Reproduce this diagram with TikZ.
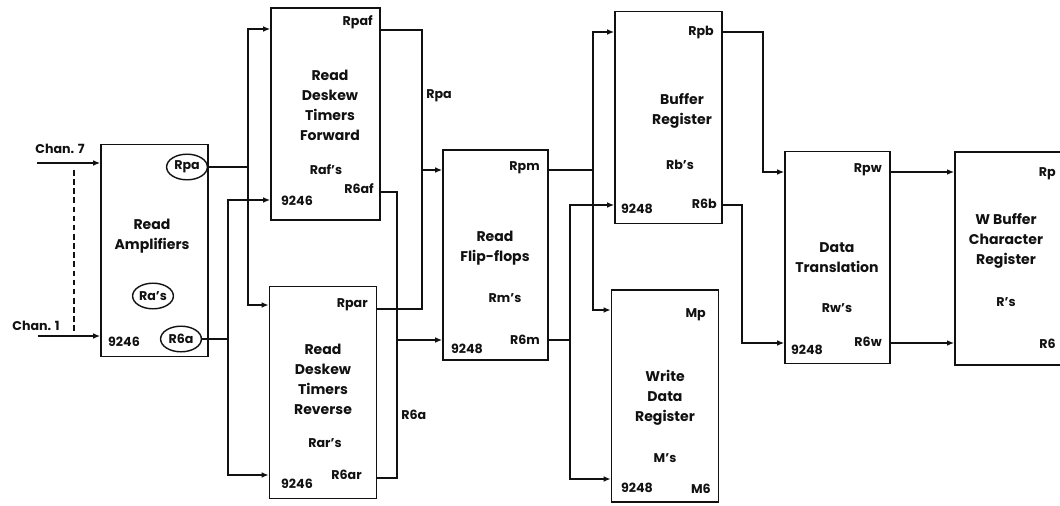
\documentclass[tikz,border=0pt]{standalone}
\usepackage{fontspec}
\setmainfont{Poppins}
\usepackage{tikz}
\usetikzlibrary{arrows.meta,shapes.geometric}
\definecolor{Ink}{HTML}{111111}
\tikzset{
  >=Latex,
  blk/.style={draw=Ink,line width=1.2pt,minimum width=2.67cm,minimum height=5.3cm,inner sep=0pt},
  ttl/.style={font=\bfseries\fontsize{10}{14.2}\selectfont,align=center,inner sep=0pt,text=Ink},
  pin/.style={font=\bfseries\fontsize{9}{10}\selectfont,inner sep=0pt,text=Ink},
  oval/.style={pin,ellipse,draw=Ink,line width=1pt,minimum width=1.02cm,minimum height=0.64cm},
  wire/.style={draw=Ink,line width=1.2pt},
  sig/.style={wire,-{Latex[length=5pt,width=4pt]}},
  chan/.style={draw=Ink,line width=.9pt,dash pattern=on 4pt off 2.5pt}
}
\begin{document}
\begin{tikzpicture}[x=0.025cm,y=-0.025cm]
    \clip (0,0) rectangle (1060,506);
    % blocks
    \node[blk] (amp) at (154.5,250.5) {};
    \node[blk,minimum width=2.72cm] (fwd) at (325.5,114) {};
    \node[blk] (rev) at (323,392.5) {};
    \node[blk,minimum width=2.62cm,minimum height=5.25cm] (ff) at (495.5,255) {};
    \node[blk] (buf) at (668.5,117.5) {};
    \node[blk] (wdr) at (665,396) {};
    \node[blk,minimum width=2.62cm] (dt) at (837.5,257.5) {};
    \node[blk,minimum width=3cm,minimum height=5.32cm] (wbuf) at (1015,258.5) {};
    % titles
    \node[ttl] (tamp) at (152,236) {Read\\Amplifiers};
    \node[ttl] (tfwd) at (330,105) {Read\\Deskew\\Timers\\Forward};
    \node[ttl] (trev) at (323,379) {Read\\Deskew\\Timers\\Reverse};
    \node[ttl] (tff) at (495,248) {Read\\Flip-flops};
    \node[ttl] (tbuf) at (682,111) {Buffer\\Register};
    \node[ttl] (twdr) at (665,398) {Write\\Data\\Register};
    \node[ttl] (tdt) at (837,258) {Data\\Translation};
    \node[ttl] (twbuf) at (1006,241) {W Buffer\\Character\\Register};
    % read amplifiers
    \node[oval] (rpa) at (187,167) {Rpa};
    \node[oval] (ras) at (153,296) {Ra's};
    \node[oval] (r6a) at (181,339) {R6a};
    \node[pin] (namp) at (124,342) {9246};
    \node[pin] (lch7) at (60,149) {Chan. 7};
    \node[pin] (lch1) at (36,326) {Chan. 1};
    \coordinate (c7) at (37,163);
    \coordinate (c1) at (38,336);
    \coordinate (d7) at (74,170);
    \coordinate (d1) at (74,333);
    \draw[sig] (c7) -- (c7 -| amp.west);
    \draw[sig] (c1) -- (c1 -| amp.west);
    \draw[chan] (d7) -- (d1);
    % deskew timers
    \node[pin,anchor=east] (rpaf) at (373,22) {Rpaf};
    \node[pin] (rafs) at (326,170) {Raf's};
    \node[pin,anchor=east] (r6af) at (374,189) {R6af};
    \node[pin] (nfwd) at (297,201) {9246};
    \node[pin,anchor=east] (rpar) at (368,305) {Rpar};
    \node[pin] (rars) at (325,443) {Rar's};
    \node[pin,anchor=east] (r6ar) at (362,475) {R6ar};
    \node[pin] (nrev) at (297,484) {9246};
    % flip-flops
    \node[pin,anchor=east] (rpm) at (540,168) {Rpm};
    \node[pin] (rms) at (505,298) {Rm's};
    \node[pin,anchor=east] (r6m) at (540,340) {R6m};
    \node[pin] (nff) at (467,349) {9248};
    % buffer and write data
    \node[pin,anchor=east] (rpb) at (714,32) {Rpb};
    \node[pin] (rbs) at (680,165) {Rb's};
    \node[pin,anchor=east] (r6b) at (717,204) {R6b};
    \node[pin] (nbuf) at (637,209) {9248};
    \node[pin,anchor=east] (mp) at (706,315) {Mp};
    \node[pin] (ms) at (665,458) {M's};
    \node[pin,anchor=east] (m6) at (711,489) {M6};
    \node[pin] (nwdr) at (637,488) {9248};
    % translation and w buffer
    \node[pin,anchor=east] (rpw) at (882,170) {Rpw};
    \node[pin] (rws) at (837,308) {Rw's};
    \node[pin,anchor=east] (r6w) at (882,342) {R6w};
    \node[pin] (ndt) at (807,350) {9248};
    \node[pin,anchor=east] (rp) at (1056,174) {Rp};
    \node[pin] (rs) at (1006,302) {R's};
    \node[pin,anchor=east] (r6) at (1056,344) {R6};
    % amplifiers to timers
    \coordinate (ja) at (248,167);
    \coordinate (jaT) at (248,29);
    \coordinate (jaB) at (248,305);
    \draw[wire] (rpa) -- (ja);
    \draw[sig] (ja) -- (jaT) -- (jaT -| fwd.west);
    \draw[sig] (ja) -- (jaB) -- (jaB -| rev.west);
    \coordinate (jb) at (228,339);
    \coordinate (jbT) at (228,200);
    \coordinate (jbB) at (228,475);
    \draw[wire] (r6a) -- (jb);
    \draw[sig] (jb) -- (jbT) -- (jbT -| fwd.west);
    \draw[sig] (jb) -- (jbB) -- (jbB -| rev.west);
    % timers to flip-flops
    \coordinate (kpT) at (422,30);
    \coordinate (kpB) at (422,309);
    \coordinate (kp) at (422,170);
    \draw[wire] (fwd.east |- kpT) -- (kpT) -- (kpB) -- (kpB -| rev.east);
    \draw[sig] (kp) -- (kp -| ff.west);
    \node[pin,anchor=west] (lrpa) at (426,96) {Rpa};
    \coordinate (krT) at (397,192);
    \coordinate (krB) at (397,478);
    \coordinate (kr) at (397,340);
    \draw[wire] (fwd.east |- krT) -- (krT) -- (krB) -- (krB -| rev.east);
    \draw[sig] (kr) -- (kr -| ff.west);
    \node[pin,anchor=west] (lr6a) at (401,415) {R6a};
    % flip-flops to registers
    \coordinate (mpT) at (593,32);
    \coordinate (mpB) at (593,310);
    \coordinate (mq) at (593,170);
    \draw[wire] (ff.east |- mq) -- (mq);
    \draw[sig] (mq) -- (mpT) -- (mpT -| buf.west);
    \draw[sig] (mq) -- (mpB) -- (mpB -| wdr.west);
    \coordinate (mrT) at (570,205);
    \coordinate (mrB) at (570,479);
    \coordinate (mr) at (570,340);
    \draw[wire] (ff.east |- mr) -- (mr);
    \draw[sig] (mr) -- (mrT) -- (mrT -| buf.west);
    \draw[sig] (mr) -- (mrB) -- (mrB -| wdr.west);
    % buffer to translation
    \coordinate (bp) at (763,32);
    \coordinate (bpB) at (763,172);
    \draw[sig] (buf.east |- bp) -- (bp) -- (bpB) -- (bpB -| dt.west);
    \coordinate (br) at (742,205);
    \coordinate (brB) at (742,343);
    \draw[sig] (buf.east |- br) -- (br) -- (brB) -- (brB -| dt.west);
    % translation to w buffer
    \draw[sig] (dt.east |- bpB) -- (bpB -| wbuf.west);
    \draw[sig] (dt.east |- brB) -- (brB -| wbuf.west);
  \end{tikzpicture}
\end{document}
